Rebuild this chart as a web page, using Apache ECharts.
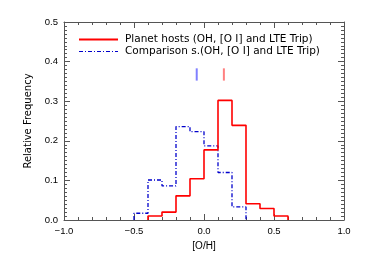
<!DOCTYPE html>
<html>
<head>
<meta charset="utf-8">
<script src="https://cdn.jsdelivr.net/npm/echarts@6/dist/echarts.min.js"></script>
<style>html,body{margin:0;padding:0;background:#fff}#c{width:365px;height:261px}</style>
</head>
<body>
<div id="c"></div>
<script>
// Bin left edges (width 0.1)
var planetEdges = [-0.4, -0.3, -0.2, -0.1, 0.0, 0.1, 0.2, 0.3, 0.4, 0.5];
var planetFreq  = [0.010, 0.020, 0.061, 0.104, 0.177, 0.302, 0.239, 0.041, 0.029, 0.010];
var compEdges = [-0.5, -0.4, -0.3, -0.2, -0.1, 0.0, 0.1, 0.2];
var compFreq  = [0.017, 0.101, 0.086, 0.236, 0.223, 0.187, 0.120, 0.033];
var binWidth = 0.1;
var planetMean = 0.142;
var compMean = -0.052;
var meanMarkRange = [0.352, 0.383];
var xTicks = [-1.0, -0.5, 0.0, 0.5, 1.0];
var yTicks = [0.0, 0.1, 0.2, 0.3, 0.4, 0.5];
var legendNames = ['Planet hosts (OH, [O I] and LTE Trip)', 'Comparison s.(OH, [O I] and LTE Trip)'];

function stepData(edges, vals) {
  var d = [[edges[0], 0]];
  for (var i = 0; i < edges.length; i++) d.push([edges[i], vals[i]]);
  d.push([+(edges[edges.length - 1] + binWidth).toFixed(2), 0]);
  return d;
}
var font = 'Liberation Sans';
var axisCol = '#555';
var chart = echarts.init(document.getElementById('c'), null, {renderer: 'canvas'});
function fmtX(v) { return v.toFixed(1).replace('-', '\u2212'); }
function common(minorSplit) {
  return {
    axisLine: {show: true, onZero: false, lineStyle: {color: axisCol, width: 1}},
    axisTick: {show: true, inside: true, length: 6, lineStyle: {color: axisCol}},
    minorTick: {show: true, splitNumber: minorSplit, length: 3, lineStyle: {color: axisCol}},
    splitLine: {show: false}
  };
}
chart.setOption({
  animation: false,
  textStyle: {fontFamily: font},
  grid: {left: 64, right: 21, top: 22, bottom: 41},
  legend: {
    orient: 'vertical', left: 74, top: 29, itemWidth: 39, itemHeight: 9, itemGap: 1,
    textStyle: {fontSize: 10.5, color: '#000', fontFamily: 'DejaVu Sans', padding: [0, 0, 0, 2]},
    data: [
      {name: legendNames[0], icon: 'path://M0,0L39,0L39,2L0,2Z', itemStyle: {color: '#ff0000'}},
      {name: legendNames[1], icon: 'path://M0,0L4,0L4,1L0,1ZM6,0L7,0L7,1L6,1ZM9,0L13,0L13,1L9,1ZM15,0L16,0L16,1L15,1ZM18,0L22,0L22,1L18,1ZM24,0L25,0L25,1L24,1ZM27,0L31,0L31,1L27,1ZM33,0L34,0L34,1L33,1ZM36,0L39,0L39,1L36,1Z', itemStyle: {color: '#0000cc'}}
    ]
  },
  xAxis: [
    Object.assign({type: 'value', min: xTicks[0], max: xTicks[xTicks.length - 1], interval: 0.5, position: 'bottom',
      name: '[O/H]', nameLocation: 'middle', nameGap: 18, nameTextStyle: {fontSize: 10, color: '#000', fontFamily: font},
      axisLabel: {fontSize: 9.5, color: '#000', margin: 6, formatter: fmtX}}, common(5)),
    Object.assign({type: 'value', min: xTicks[0], max: xTicks[xTicks.length - 1], interval: 0.5, position: 'top',
      axisLabel: {show: false}}, common(5))
  ],
  yAxis: [
    Object.assign({type: 'value', min: yTicks[0], max: yTicks[yTicks.length - 1], interval: 0.1, position: 'left',
      name: 'Relative Frequency', nameLocation: 'middle', nameGap: 23, nameRotate: 90,
      nameTextStyle: {fontSize: 10, color: '#000', fontFamily: 'DejaVu Sans'},
      axisLabel: {fontSize: 9.5, color: '#000', margin: 6, formatter: function (v) { return v.toFixed(1); }}}, common(10)),
    Object.assign({type: 'value', min: yTicks[0], max: yTicks[yTicks.length - 1], interval: 0.1, position: 'right',
      axisLabel: {show: false}}, common(10))
  ],
  series: [
    {name: legendNames[0], type: 'line', step: 'end', symbol: 'none', data: stepData(planetEdges, planetFreq),
      lineStyle: {color: '#ff0000', width: 1.6}, itemStyle: {color: '#ff0000'}, z: 3},
    {name: legendNames[1], type: 'line', step: 'end', symbol: 'none', data: stepData(compEdges, compFreq),
      lineStyle: {color: '#0000cc', width: 1.3, type: [4, 2, 1, 2]}, itemStyle: {color: '#0000cc'}, z: 2},
    {name: 'pm', type: 'line', symbol: 'none', data: [[planetMean, meanMarkRange[0]], [planetMean, meanMarkRange[1]]],
      lineStyle: {color: '#ff8080', width: 2}, silent: true},
    {name: 'cm', type: 'line', symbol: 'none', data: [[compMean, meanMarkRange[0]], [compMean, meanMarkRange[1]]],
      lineStyle: {color: '#8080ff', width: 2}, silent: true}
  ]
});
</script>
</body>
</html>
